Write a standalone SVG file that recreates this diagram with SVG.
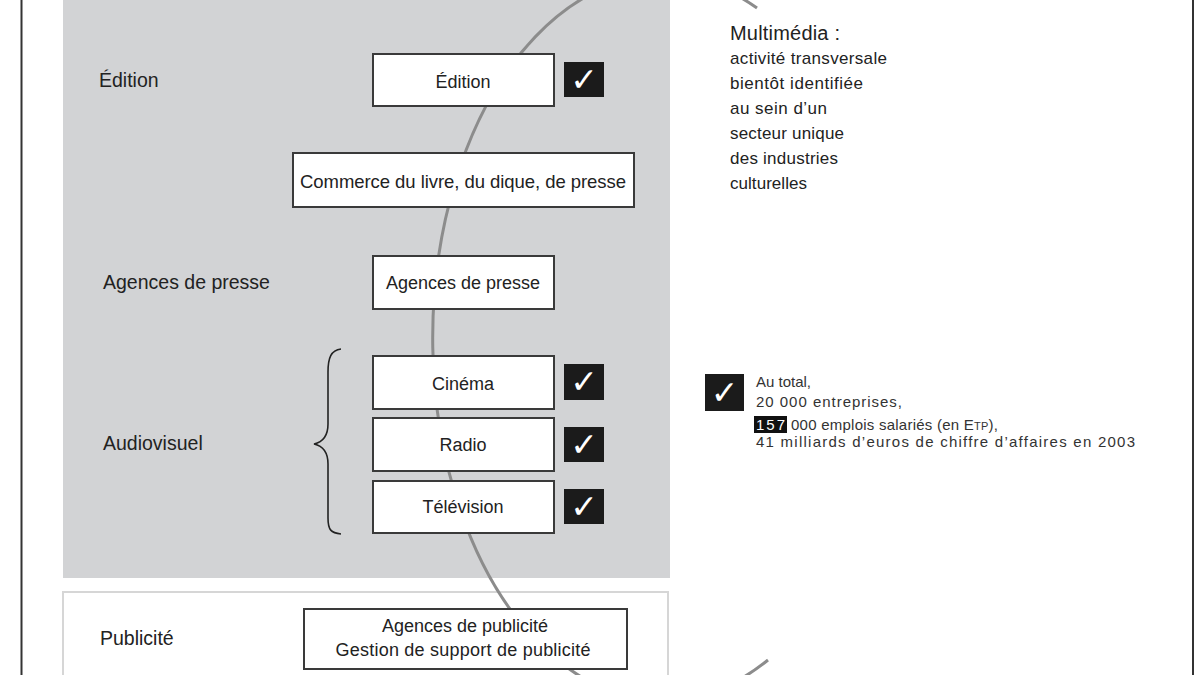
<svg xmlns="http://www.w3.org/2000/svg" width="1200" height="675" viewBox="0 0 1200 675">
<style>
.lbl{font-family:"Liberation Sans",Arial,sans-serif;font-size:19.5px;fill:#222}
.bt{font-family:"Liberation Sans",Arial,sans-serif;font-size:18px;fill:#222;text-anchor:middle}
.box{fill:#fff;stroke:#3a3a3a;stroke-width:2}
.chk{fill:#1b1b1b}
.ck{font-family:"DejaVu Sans",sans-serif;font-size:33px;fill:#fff;text-anchor:middle}
.side{font-family:"Liberation Sans",Arial,sans-serif;font-size:17px;fill:#222}
.tot{font-family:"Liberation Sans",Arial,sans-serif;font-size:15px;fill:#333}
</style>
<rect width="1200" height="675" fill="#fff"/>
<line x1="21.5" y1="0" x2="21.5" y2="675" stroke="#333" stroke-width="2"/>
<line x1="1193" y1="0" x2="1193" y2="675" stroke="#333" stroke-width="2"/>
<g id="panel-pub"><rect x="63" y="592" width="605" height="100" fill="#fff" stroke="#d6d6d6" stroke-width="2"/></g>
<g id="panel-grey"><rect x="63" y="-5" width="607" height="583" fill="#d2d3d5"/></g>
<g id="connectors"><path d="M757,8 A230,362 0 1 0 768,660" fill="none" stroke="#8c8c8c" stroke-width="3"/></g>
<g id="labels">
<text class="lbl" x="99" y="87">Édition</text>
<text class="lbl" x="103" y="289">Agences de presse</text>
<text class="lbl" x="103" y="450">Audiovisuel</text>
<text class="lbl" x="100" y="645">Publicité</text>
</g>
<g id="brace"><path d="M341,349 C331,350 328,358 328,372 L328,424 C328,436 323,442 314,444 C323,446 328,452 328,464 L328,518 C328,530 331,533 341,534" fill="none" stroke="#222" stroke-width="1.6"/></g>
<g id="n-edition"><rect class="box" x="373" y="54" width="181" height="52"/><text class="bt" x="463" y="88">Édition</text></g>
<g id="c-edition"><rect class="chk" x="564" y="62" width="40" height="35"/><text class="ck" x="584" y="91">✓</text></g>
<g id="n-commerce"><rect class="box" x="293" y="153" width="341" height="54"/><text class="bt" x="463" y="188" textLength="326" style="font-size:18.5px">Commerce du livre, du dique, de presse</text></g>
<g id="n-agences"><rect class="box" x="373" y="256" width="181" height="53"/><text class="bt" x="463" y="289">Agences de presse</text></g>
<g id="n-cinema"><rect class="box" x="373" y="356" width="181" height="53"/><text class="bt" x="463" y="390">Cinéma</text></g>
<g id="c-cinema"><rect class="chk" x="564" y="364" width="40" height="36"/><text class="ck" x="584" y="393">✓</text></g>
<g id="n-radio"><rect class="box" x="373" y="418" width="181" height="53"/><text class="bt" x="463" y="451">Radio</text></g>
<g id="c-radio"><rect class="chk" x="564" y="427" width="40" height="35"/><text class="ck" x="584" y="456">✓</text></g>
<g id="n-television"><rect class="box" x="373" y="481" width="181" height="52"/><text class="bt" x="463" y="513">Télévision</text></g>
<g id="c-television"><rect class="chk" x="564" y="489" width="40" height="35"/><text class="ck" x="584" y="518">✓</text></g>
<g id="n-pub"><rect class="box" x="304" y="609" width="323" height="60"/><text class="bt" x="465" y="632">Agences de publicité</text><text class="bt" x="463" y="656" textLength="255">Gestion de support de publicité</text></g>
<g id="multimedia">
<text class="side" x="730" y="40" style="font-size:20px" textLength="110">Multimédia :</text>
<text class="side" x="730" y="64" textLength="157">activité transversale</text>
<text class="side" x="730" y="89" textLength="133">bientôt identifiée</text>
<text class="side" x="730" y="114" textLength="97">au sein d’un</text>
<text class="side" x="730" y="139" textLength="114">secteur unique</text>
<text class="side" x="730" y="164" textLength="108">des industries</text>
<text class="side" x="730" y="189" textLength="77">culturelles</text>
</g>
<g id="total">
<rect class="chk" x="705" y="374" width="39" height="37"/><text class="ck" x="724.5" y="404">✓</text>
<text class="tot" x="756" y="387">Au total,</text>
<text class="tot" x="756" y="407" textLength="146">20 000 entreprises,</text>
<rect x="754" y="416" width="33" height="17" fill="#111"/>
<text class="tot" x="756" y="430" style="fill:#fff" textLength="29">157</text>
<text class="tot" x="791" y="430" textLength="207">000 emplois salariés (en E<tspan style="font-size:11px">TP</tspan>),</text>
<text class="tot" x="756" y="447" textLength="379">41 milliards d’euros de chiffre d’affaires en 2003</text>
</g>
</svg>
